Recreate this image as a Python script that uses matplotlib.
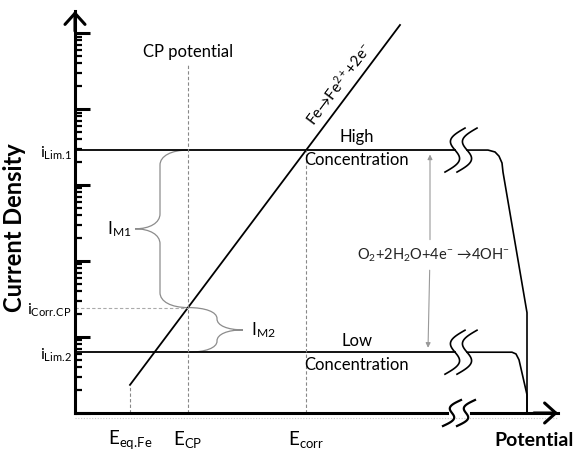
import numpy as np
import matplotlib.pyplot as plt
from matplotlib.path import Path
from matplotlib.patches import PathPatch
from matplotlib.transforms import IdentityTransform
from matplotlib.ticker import LogLocator, NullFormatter

plt.rcParams['font.family'] = ['Lato', 'DejaVu Sans']
plt.rcParams['mathtext.fontset'] = 'custom'
plt.rcParams['mathtext.rm'] = 'Lato'
plt.rcParams['mathtext.it'] = 'Lato:italic'
plt.rcParams['mathtext.bf'] = 'Lato:bold'

# potentials (arbitrary units) and log10 of current density
E_eq_fe = 1.1
E_cp = 2.26
E_fe_end = 6.5
tafel_slope = 0.877      # decades per potential unit
log_i0 = 0.37
log_ilim1 = 3.46
log_ilim2 = 0.80
E_break = [7.6, 7.84]    # the two squiggles of the axis break
E_arrow = 7.1

# oxygen reduction branch beyond the break
high_E = [7.84, 8.26, 8.40, 8.48, 8.54, 8.56, 9.04, 9.04]
high_logi = [3.46, 3.46, 3.435, 3.38, 3.29, 3.17, 1.32, 0.0]
low_E = [7.84, 8.74, 8.82, 8.88, 9.04, 9.04]
low_logi = [0.80, 0.80, 0.777, 0.70, 0.24, 0.0]

E_corr = E_eq_fe + (log_ilim1 - log_i0) / tafel_slope
log_icorr_cp = log_i0 + tafel_slope * (E_cp - E_eq_fe)

fig = plt.figure(figsize=(5.77, 4.5), dpi=100)
ax = fig.add_axes([75 / 577, 37 / 450, 483 / 577, 402 / 450])
ax.set_yscale('log')
ax.set_xlim(0, 9.66)
ax.set_ylim(1, 10 ** 5.29)

for s in ['top', 'right']:
    ax.spines[s].set_visible(False)
for s in ['left', 'bottom']:
    ax.spines[s].set_linewidth(2.2)
ax.set_xticks([])
ax.yaxis.set_major_locator(LogLocator(base=10, numticks=10))
ax.yaxis.set_minor_locator(LogLocator(base=10, subs=np.arange(2, 10), numticks=10))
ax.yaxis.set_major_formatter(NullFormatter())
ax.yaxis.set_minor_formatter(NullFormatter())
ax.tick_params(axis='y', which='major', direction='in', length=11, width=2.2)
ax.tick_params(axis='y', which='minor', direction='in', length=5, width=1.6)

# axis arrow heads
arrow_kw = dict(arrowstyle='->,head_length=0.5,head_width=0.45', lw=2.2,
                color='black', mutation_scale=16, shrinkA=0, shrinkB=0)
ax.annotate('', xy=(0, 1.0), xytext=(0, 0.95), xycoords='axes fraction',
            arrowprops=arrow_kw)
ax.annotate('', xy=(1.0, 0), xytext=(0.95, 0), xycoords='axes fraction',
            arrowprops=arrow_kw)
ax.plot([0, 1], [-0.012, -0.012], transform=ax.transAxes, color='#c8c8c8',
        lw=0.8, ls=(0, (1, 1.5)), clip_on=False)

# Tafel line for iron dissolution
fe_E = np.array([E_eq_fe, E_fe_end])
fe_logi = log_i0 + tafel_slope * (fe_E - E_eq_fe)
ax.plot(fe_E, 10 ** fe_logi, color='black', lw=1.3)

# limiting current lines
ax.plot([0, E_break[0]], [10 ** log_ilim1] * 2, color='black', lw=1.3)
ax.plot([0, E_break[0]], [10 ** log_ilim2] * 2, color='black', lw=1.3)
ax.plot(high_E, 10 ** np.array(high_logi), color='black', lw=1.2, clip_on=False)
ax.plot(low_E, 10 ** np.array(low_logi), color='black', lw=1.2, clip_on=False)

# dashed guide lines
dash = dict(color='#888888', lw=0.8, ls=(0, (3, 2)))
ax.plot([E_eq_fe, E_eq_fe], [1, 10 ** log_i0], **dash)
ax.plot([E_cp, E_cp], [1, 10 ** 4.6], **dash)
ax.plot([E_corr, E_corr], [1, 10 ** log_ilim1], **dash)
ax.plot([0, E_cp], [10 ** log_icorr_cp] * 2, color='#aaaaaa', lw=0.8, ls=(0, (3, 2)))


def to_px(E, logi):
    return ax.transData.transform((E, 10 ** logi))


def squiggle(center, h, w, amp, lw=1.2):
    s = np.linspace(-1, 1, 80)
    xs = center[0] - w * s + amp * np.sin(np.pi * s)
    ys = center[1] - h * s
    ax.plot(xs, ys, transform=IdentityTransform(), color='black', lw=lw,
            clip_on=False, zorder=4)


# breaks on the limiting current lines and on the x axis
for lg in [log_ilim1, log_ilim2]:
    for Eb in E_break:
        squiggle(to_px(Eb, lg), 22, 10, 9)
p_a = to_px(E_break[0] - 0.06, 0)
p_b = to_px(E_break[1] - 0.02, 0)
ax.plot([p_a[0], p_b[0]], [p_a[1], p_b[1]], transform=IdentityTransform(),
        color='white', lw=5, clip_on=False, zorder=3)
for p in [p_a, p_b]:
    squiggle(p, 13, 9, 6, lw=1.6)


def brace(p0, p1, d1, d, r, side, color='#8c8c8c'):
    p0 = np.asarray(p0)
    p1 = np.asarray(p1)
    L = np.hypot(*(p1 - p0))
    u = (p1 - p0) / L
    v = np.array([side, 0.0])
    m = L / 2
    local = [(0, 0), (0, 0.6 * d1), (0.4 * r, d1), (r, d1),
             (m - r, d1),
             (m - 0.4 * r, d1), (m, d - 0.6 * (d - d1)), (m, d),
             (m, d - 0.6 * (d - d1)), (m + 0.4 * r, d1), (m + r, d1),
             (L - r, d1),
             (L - 0.4 * r, d1), (L, 0.6 * d1), (L, 0)]
    verts = [p0 + a * u + b * v for a, b in local]
    codes = ([Path.MOVETO] + [Path.CURVE4] * 3 + [Path.LINETO] +
             [Path.CURVE4] * 6 + [Path.LINETO] + [Path.CURVE4] * 3)
    ax.add_patch(PathPatch(Path(verts, codes), fill=False, edgecolor=color,
                           lw=0.9, transform=IdentityTransform(), clip_on=False))
    return p0 + m * u + d * v


tip1 = brace(to_px(E_cp, log_ilim1), to_px(E_cp, log_icorr_cp), 28, 53, 15, -1)
tip2 = brace(to_px(E_cp, log_icorr_cp), to_px(E_cp, log_ilim2), 29, 55, 11, 1)
ax.text(tip1[0] - 3, tip1[1], r'$\mathrm{I_{M1}}$', transform=IdentityTransform(),
        ha='right', va='center', fontsize=12.5)
ax.text(tip2[0] + 8, tip2[1], r'$\mathrm{I_{M2}}$', transform=IdentityTransform(),
        ha='left', va='center', fontsize=12.5)

# double arrow for oxygen reduction
log_o2_text = 2.08
arr = dict(arrowstyle='-|>', color='#999999', lw=0.8, mutation_scale=7,
           shrinkA=11, shrinkB=1)
ax.annotate('', xy=(E_arrow, 10 ** (log_ilim1 - 0.04)),
            xytext=(E_arrow, 10 ** log_o2_text), arrowprops=arr)
ax.annotate('', xy=(E_arrow - 0.04, 10 ** (log_ilim2 + 0.04)),
            xytext=(E_arrow, 10 ** log_o2_text), arrowprops=arr)
ax.text(E_arrow + 0.06, 10 ** log_o2_text,
        'O$_2$+2H$_2$O+4e$^{-}$ \u2192' + '4OH$^{-}$',
        ha='center', va='center', fontsize=10.5, color='#222222')

# text annotations
ax.text(E_cp, 10 ** 4.75, 'CP potential', ha='center', va='center', fontsize=12)
E_conc = 5.64
for lg, top, up, down in [(log_ilim1, 'High', 13, 10), (log_ilim2, 'Low', 11, 13)]:
    ax.annotate(top, (E_conc, 10 ** lg), xytext=(0, up), textcoords='offset pixels',
                ha='center', va='center', fontsize=12)
    ax.annotate('Concentration', (E_conc, 10 ** lg), xytext=(0, -down),
                textcoords='offset pixels', ha='center', va='center', fontsize=12)

E_lab = 5.5
p1 = to_px(E_eq_fe, log_i0)
p2 = to_px(E_fe_end, fe_logi[-1])
ang = np.degrees(np.arctan2(p2[1] - p1[1], p2[0] - p1[0]))
ax.annotate('Fe\u2192Fe$^{2+}$+2e$^{-}$',
            (E_lab, 10 ** (log_i0 + tafel_slope * (E_lab - E_eq_fe))),
            xytext=(-11, 8), textcoords='offset pixels', rotation=ang,
            rotation_mode='anchor', ha='center', va='center', fontsize=11)

for lg, lab in [(log_ilim1, r'$\mathrm{i_{Lim.\!1}}$'),
                (log_icorr_cp, r'$\mathrm{i_{Corr.\!CP}}$'),
                (log_ilim2, r'$\mathrm{i_{Lim.\!2}}$')]:
    ax.annotate(lab, (0, 10 ** lg), xycoords=('axes fraction', 'data'),
                xytext=(-3, -3), textcoords='offset pixels', ha='right',
                va='center', fontsize=11.5)

for E, lab in [(E_eq_fe, r'$\mathrm{E_{eq.\!Fe}}$'), (E_cp, r'$\mathrm{E_{CP}}$'),
               (E_corr, r'$\mathrm{E_{corr}}$')]:
    ax.annotate(lab, (E, 0), xycoords=('data', 'axes fraction'),
                xytext=(0, -27), textcoords='offset pixels', ha='center',
                va='center', fontsize=13.5)

ax.annotate('Potential', (0.95, 0), xycoords='axes fraction', xytext=(0, -27),
            textcoords='offset pixels', ha='center', va='center',
            fontsize=14, fontweight='bold')
fig.text(15 / 577, 1 - 228 / 450, 'Current Density', rotation=90, ha='center',
         va='center', fontsize=17, fontweight='bold')

fig.savefig('out.png', dpi=100)
